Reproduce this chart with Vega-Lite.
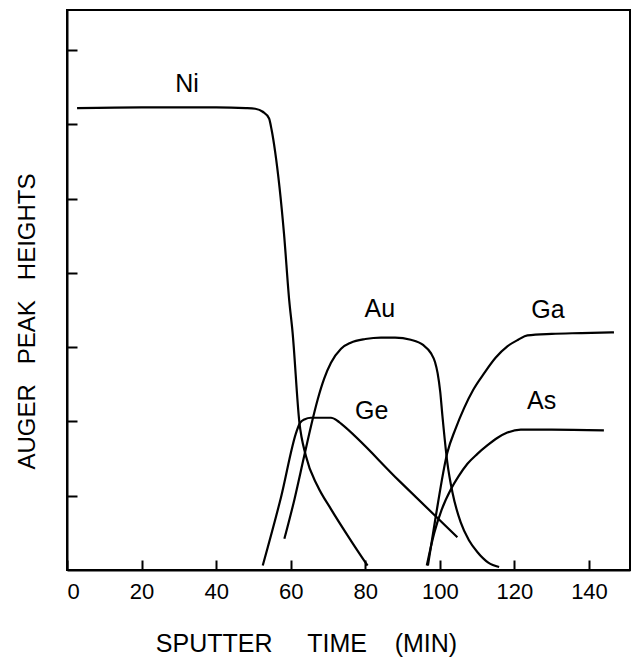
{
  "$schema": "https://vega.github.io/schema/vega-lite/v6.json",
  "width": 563,
  "height": 560,
  "autosize": "none",
  "padding": {"left": 67, "top": 10, "right": 13, "bottom": 93},
  "background": "white",
  "config": {
    "view": {"stroke": "black", "strokeWidth": 2},
    "axis": {
      "grid": false,
      "domainColor": "black",
      "domainWidth": 2,
      "tickColor": "black",
      "tickWidth": 2,
      "labelColor": "black",
      "titleColor": "black",
      "labelFont": "Liberation Sans",
      "titleFont": "Liberation Sans",
      "titleFontWeight": "normal"
    }
  },
  "datasets": {
    "curves": [
      {"element": "Ni", "t": 2.7, "h": 6.22},
      {"element": "Ni", "t": 20, "h": 6.23},
      {"element": "Ni", "t": 40, "h": 6.23},
      {"element": "Ni", "t": 48, "h": 6.22},
      {"element": "Ni", "t": 50.5, "h": 6.21},
      {"element": "Ni", "t": 52.5, "h": 6.17},
      {"element": "Ni", "t": 54.2, "h": 6.08},
      {"element": "Ni", "t": 54.9, "h": 5.92},
      {"element": "Ni", "t": 55.8, "h": 5.64},
      {"element": "Ni", "t": 58.2, "h": 4.53},
      {"element": "Ni", "t": 59.6, "h": 3.63},
      {"element": "Ni", "t": 60.5, "h": 3.2},
      {"element": "Ni", "t": 62.3, "h": 2.0},
      {"element": "Ni", "t": 64.1, "h": 1.53},
      {"element": "Ni", "t": 67.2, "h": 1.13},
      {"element": "Ni", "t": 70.8, "h": 0.82},
      {"element": "Ni", "t": 76.1, "h": 0.4},
      {"element": "Ni", "t": 80.6, "h": 0.06},
      {"element": "Au", "t": 58.3, "h": 0.42},
      {"element": "Au", "t": 61, "h": 0.95},
      {"element": "Au", "t": 63.6, "h": 1.53},
      {"element": "Au", "t": 65.5, "h": 1.95},
      {"element": "Au", "t": 67.2, "h": 2.29},
      {"element": "Au", "t": 69, "h": 2.58},
      {"element": "Au", "t": 70.8, "h": 2.79},
      {"element": "Au", "t": 73.5, "h": 2.98},
      {"element": "Au", "t": 76.1, "h": 3.06},
      {"element": "Au", "t": 80, "h": 3.11},
      {"element": "Au", "t": 84.2, "h": 3.13},
      {"element": "Au", "t": 88, "h": 3.13},
      {"element": "Au", "t": 92.2, "h": 3.1},
      {"element": "Au", "t": 95.5, "h": 3.03},
      {"element": "Au", "t": 97.6, "h": 2.92},
      {"element": "Au", "t": 98.7, "h": 2.8},
      {"element": "Au", "t": 99.4, "h": 2.65},
      {"element": "Au", "t": 100.1, "h": 2.4},
      {"element": "Au", "t": 100.7, "h": 2.07},
      {"element": "Au", "t": 102, "h": 1.45},
      {"element": "Au", "t": 103.4, "h": 1.04},
      {"element": "Au", "t": 105.6, "h": 0.64},
      {"element": "Au", "t": 107.8, "h": 0.4},
      {"element": "Au", "t": 110.1, "h": 0.24},
      {"element": "Au", "t": 113, "h": 0.1},
      {"element": "Au", "t": 115.9, "h": 0.04},
      {"element": "Ge", "t": 52.5, "h": 0.06},
      {"element": "Ge", "t": 57.4, "h": 0.98},
      {"element": "Ge", "t": 61.6, "h": 1.87},
      {"element": "Ge", "t": 62.5, "h": 1.98},
      {"element": "Ge", "t": 63.8, "h": 2.03},
      {"element": "Ge", "t": 65.4, "h": 2.05},
      {"element": "Ge", "t": 70.8, "h": 2.05},
      {"element": "Ge", "t": 72.5, "h": 2.01},
      {"element": "Ge", "t": 73.5, "h": 1.97},
      {"element": "Ge", "t": 89.1, "h": 1.2},
      {"element": "Ge", "t": 104.7, "h": 0.44},
      {"element": "Ga", "t": 96.8, "h": 0.06},
      {"element": "Ga", "t": 98.9, "h": 0.72},
      {"element": "Ga", "t": 102, "h": 1.58},
      {"element": "Ga", "t": 104.2, "h": 1.9},
      {"element": "Ga", "t": 106.5, "h": 2.18},
      {"element": "Ga", "t": 109, "h": 2.43},
      {"element": "Ga", "t": 111.9, "h": 2.65},
      {"element": "Ga", "t": 115, "h": 2.86},
      {"element": "Ga", "t": 118.1, "h": 3.01},
      {"element": "Ga", "t": 121, "h": 3.1},
      {"element": "Ga", "t": 123.5, "h": 3.16},
      {"element": "Ga", "t": 130, "h": 3.18},
      {"element": "Ga", "t": 138, "h": 3.19},
      {"element": "Ga", "t": 146.7, "h": 3.2},
      {"element": "As", "t": 96.5, "h": 0.06},
      {"element": "As", "t": 98.5, "h": 0.5},
      {"element": "As", "t": 100.4, "h": 0.8},
      {"element": "As", "t": 103, "h": 1.09},
      {"element": "As", "t": 105, "h": 1.26},
      {"element": "As", "t": 107.4, "h": 1.43},
      {"element": "As", "t": 110, "h": 1.56},
      {"element": "As", "t": 112.8, "h": 1.68},
      {"element": "As", "t": 115.5, "h": 1.78},
      {"element": "As", "t": 118.1, "h": 1.85},
      {"element": "As", "t": 121.7, "h": 1.89},
      {"element": "As", "t": 130, "h": 1.89},
      {"element": "As", "t": 144, "h": 1.88}
    ],
    "labels": [
      {"element": "Ni", "t": 32.2, "h": 6.55},
      {"element": "Au", "t": 83.9, "h": 3.51},
      {"element": "Ga", "t": 129, "h": 3.5},
      {"element": "Ge", "t": 81.7, "h": 2.14},
      {"element": "As", "t": 127.3, "h": 2.28}
    ]
  },
  "layer": [
    {
      "data": {"name": "curves"},
      "mark": {"type": "line", "interpolate": "monotone", "color": "black", "strokeWidth": 2.2},
      "encoding": {
        "x": {
          "field": "t",
          "type": "quantitative",
          "scale": {"domain": [0, 151], "nice": false, "zero": false},
          "axis": {
            "values": [0, 20, 40, 60, 80, 100, 120, 140],
            "tickSize": -10,
            "labelPadding": 21,
            "labelFontSize": 22,
            "title": "SPUTTER\u00a0\u00a0\u00a0\u00a0\u00a0TIME\u00a0\u00a0\u00a0\u00a0(MIN)",
            "titleFontSize": 25,
            "titleX": 239,
            "titleY": 73,
            "titleAlign": "center",
            "titleBaseline": "middle"
          }
        },
        "y": {
          "field": "h",
          "type": "quantitative",
          "scale": {"domain": [0, 7.54], "nice": false, "zero": false},
          "axis": {
            "values": [1, 2, 3, 4, 5, 6, 7],
            "tickSize": -10,
            "labels": false,
            "title": "AUGER\u00a0\u00a0\u00a0PEAK\u00a0\u00a0\u00a0HEIGHTS",
            "titleFontSize": 24,
            "titleX": -40,
            "titleY": 311,
            "titleAngle": 270,
            "titleAlign": "center",
            "titleBaseline": "middle"
          }
        },
        "detail": {"field": "element", "type": "nominal"}
      }
    },
    {
      "data": {"name": "labels"},
      "mark": {"type": "text", "font": "Liberation Sans", "fontSize": 25, "color": "black", "align": "center", "baseline": "middle"},
      "encoding": {
        "x": {"field": "t", "type": "quantitative"},
        "y": {"field": "h", "type": "quantitative"},
        "text": {"field": "element", "type": "nominal"}
      }
    }
  ]
}
